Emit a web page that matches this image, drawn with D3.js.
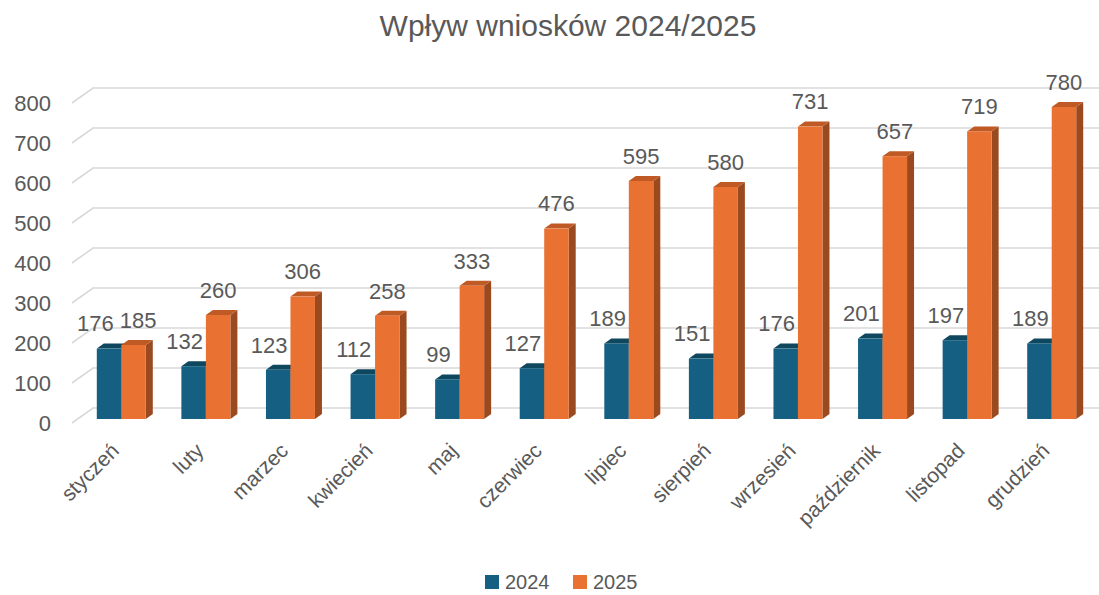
<!DOCTYPE html>
<html>
<head>
<meta charset="utf-8">
<script src="https://cdn.jsdelivr.net/npm/d3@7.9.0/dist/d3.min.js"></script>
<style>
  body { margin: 0; background: #fff; }
  svg text { font-family: "Liberation Sans", Arial, sans-serif; fill: #595959; }
</style>
</head>
<body>
<div id="chart"></div>
<script>
// data
const months = ['styczeń', 'luty', 'marzec', 'kwiecień', 'maj', 'czerwiec',
  'lipiec', 'sierpień', 'wrzesień', 'październik', 'listopad', 'grudzień'];
const series = ['2024', '2025'];
const values2024 = [176, 132, 123, 112, 99, 127, 189, 151, 176, 201, 197, 189];
const values2025 = [185, 260, 306, 258, 333, 476, 595, 580, 731, 657, 719, 780];
const yTicks = [0, 100, 200, 300, 400, 500, 600, 700, 800];

const width = 1099, height = 595;
const colors = {
  '2024': { front: '#156082', top: '#0f475f', side: '#0d3e53' },
  '2025': { front: '#e97132', top: '#bf5a24', side: '#9b4a20' }
};
// 3d offsets
const dx = 7, dy = 5;

const rows = months.flatMap((m, i) => [
  { month: m, key: '2024', value: values2024[i] },
  { month: m, key: '2025', value: values2025[i] }
]);

const svg = d3.select('#chart').append('svg')
  .attr('width', width)
  .attr('height', height);

// scales
const x0 = d3.scaleBand().domain(months).range([79, 1094]);
const x1 = d3.scaleBand().domain(series).range([17.8, 66.8]);
const y = d3.scaleLinear().domain([0, 800]).range([419, 99]);
const yBack = d3.scaleLinear().domain([0, 800]).range([408, 88]);
const yFront = d3.scaleLinear().domain([0, 800]).range([423, 103]);

// title
svg.append('text')
  .attr('x', 568)
  .attr('y', 36)
  .attr('text-anchor', 'middle')
  .style('font-size', '30px')
  .text('Wpływ wniosków 2024/2025');

// gridlines (side wall + back wall)
const grid = svg.append('g').attr('class', 'grid');
grid.selectAll('path')
  .data(yTicks)
  .join('path')
  .attr('d', v => `M72,${yFront(v)}L93,${yBack(v)}H${width}`)
  .attr('fill', 'none')
  .attr('stroke', '#d9d9d9')
  .attr('stroke-width', 1.6);

// y labels
svg.append('g')
  .selectAll('text')
  .data(yTicks)
  .join('text')
  .attr('x', 51)
  .attr('y', v => yFront(v))
  .attr('dy', '0.35em')
  .attr('text-anchor', 'end')
  .style('font-size', '22px')
  .text(v => v);

// bars
const bars = svg.append('g').selectAll('g.bar')
  .data(rows)
  .join('g')
  .attr('class', 'bar');

bars.each(function(d) {
  const g = d3.select(this);
  const bx = x0(d.month) + x1(d.key);
  const w = x1.bandwidth();
  const top = y(d.value), base = y(0);
  g.append('path')
    .attr('d', `M${bx + w},${top}L${bx + w + dx},${top - dy}V${base - dy}L${bx + w},${base}Z`)
    .attr('fill', colors[d.key].side);
  g.append('path')
    .attr('d', `M${bx},${top}L${bx + dx},${top - dy}H${bx + w + dx}L${bx + w},${top}Z`)
    .attr('fill', colors[d.key].top);
  g.append('rect')
    .attr('x', bx)
    .attr('y', top)
    .attr('width', w)
    .attr('height', base - top)
    .attr('fill', colors[d.key].front);
});

// data labels
const labelShift = { '2024': -9, '2025': 0 };
const labels = svg.append('g').selectAll('text')
  .data(rows)
  .join('text')
  .attr('text-anchor', 'middle')
  .style('font-size', '22px')
  .attr('y', d => y(d.value) - 25)
  .attr('dy', '0.35em')
  .text(d => d.value);

labels.each(function(d) {
  d.lx = x0(d.month) + x1(d.key) + x1.bandwidth() / 2 + labelShift[d.key];
  d.ly = y(d.value) - 25;
  d.w = this.getComputedTextLength();
});
// push apart labels of the same month when they collide
months.forEach(m => {
  const [a, b] = rows.filter(r => r.month === m);
  const overlapX = (a.lx + a.w / 2 + 6) - (b.lx - b.w / 2);
  if (overlapX > 0 && Math.abs(a.ly - b.ly) < 22) {
    a.lx -= overlapX / 2;
    b.lx += overlapX / 2;
  }
});
labels.attr('x', d => d.lx);

// category labels
svg.append('g').selectAll('text')
  .data(months)
  .join('text')
  .attr('text-anchor', 'end')
  .style('font-size', '21px')
  .attr('transform', m => {
    const cx = x0(m) + x0.bandwidth() / 2 - 1;
    return `translate(${cx},452) rotate(-45)`;
  })
  .text(m => m);

// legend
const legend = svg.append('g').attr('transform', 'translate(485,575)');
const item = legend.selectAll('g')
  .data(series)
  .join('g')
  .attr('transform', (d, i) => `translate(${i * 88},0)`);
item.append('rect')
  .attr('width', 14)
  .attr('height', 14)
  .attr('fill', d => colors[d].front);
item.append('text')
  .attr('x', 20)
  .attr('y', 7)
  .attr('dy', '0.35em')
  .style('font-size', '20px')
  .text(d => d);
</script>
</body>
</html>
